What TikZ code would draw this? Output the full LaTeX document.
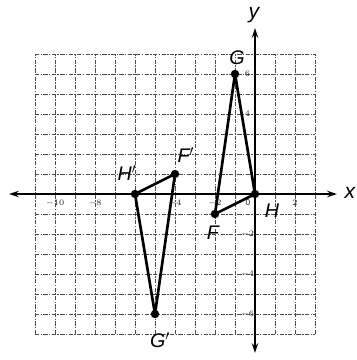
\documentclass[tikz,border=0pt]{standalone}
\usepackage{fontspec}
\setmainfont{Liberation Sans}
\usetikzlibrary{arrows.meta}
\begin{document}
\begin{tikzpicture}[x=0.5cm,y=0.5cm,
  gridline/.style={black!70,line width=0.7pt,dash pattern=on 3pt off 1pt on 1pt off 1pt},
  axisline/.style={black,line width=1.2pt,{Stealth[length=7pt,width=4.5pt]}-{Stealth[length=7pt,width=4.5pt]}},
  side/.style={black,line width=1.9pt,line join=round},
  vertex/.style={circle,fill=black,inner sep=0pt,minimum size=6pt},
  ptlabel/.style={font=\fontsize{14}{14}\selectfont\itshape,inner sep=0pt},
  ticklabel/.style={font=\fontsize{6}{6}\selectfont,inner sep=0pt,text=black!85},
  axlabel/.style={font=\fontsize{15}{15}\selectfont\itshape,inner sep=0pt}]
\useasboundingbox (-12.75,-8.3) rectangle (5.1,9.7);
% grid
\foreach \i in {-11,...,3} \draw[gridline] (\i,-7) -- (\i,7);
\foreach \j in {-7,...,7} \draw[gridline] (-11,\j) -- (3,\j);
% axes
\coordinate (xl) at (-12.3,0);
\coordinate (xr) at (4.1,0);
\coordinate (yt) at (0,8.3);
\coordinate (yb) at (0,-7.95);
\draw[axisline] (xl) -- (xr);
\draw[axisline] (yb) -- (yt);
\node[axlabel] (xlab) at (4.75,0.05) {x};
\node[axlabel] (ylab) at (-0.05,8.95) {y};
% tick labels
\foreach \v in {-10,-8,-4,-2,2} \node[ticklabel] (tx\v) at (\v,-0.45) {$\v$};
\node[ticklabel] (t0) at (-0.35,-0.45) {0};
\foreach \v in {6,4,-2,-4,-6} \node[ticklabel] (ty\v) at (-0.38,\v) {$\v$};
% original triangle
\node[vertex] (G) at (-1,6) {};
\node[vertex] (H) at (0,0) {};
\node[vertex] (F) at (-2,-1) {};
\draw[side] (G.center) -- (H.center) -- (F.center) -- cycle;
% image triangle
\node[vertex] (Hp) at (-6,0) {};
\node[vertex] (Fp) at (-4,1) {};
\node[vertex] (Gp) at (-5,-6) {};
\draw[side] (Hp.center) -- (Fp.center) -- (Gp.center) -- cycle;
% labels
\node[ptlabel] (lG) at (-0.9,6.8) {G};
\node[ptlabel] (lH) at (0.85,-0.85) {H};
\node[ptlabel] (lF) at (-2.1,-1.95) {F};
\node[ptlabel] (lHp) at (-6.4,1.05) {H$'$};
\node[ptlabel] (lFp) at (-3.45,1.95) {F$'$};
\node[ptlabel] (lGp) at (-4.75,-7.3) {G$'$};
\end{tikzpicture}
\end{document}
